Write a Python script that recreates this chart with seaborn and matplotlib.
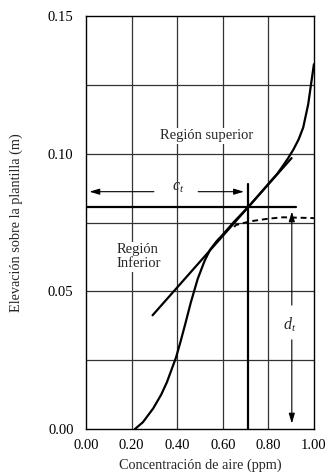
import matplotlib
matplotlib.use('Agg')
import matplotlib.pyplot as plt
import seaborn as sns

# --- Data ---
# S-shaped air concentration profile
profile_x = [0.215, 0.25, 0.295, 0.33, 0.355, 0.375, 0.395, 0.415, 0.435, 0.46,
             0.49, 0.52, 0.545, 0.573, 0.60, 0.65, 0.71, 0.76, 0.807, 0.84,
             0.865, 0.887, 0.91, 0.933, 0.953, 0.975, 0.987, 1.0]
profile_y = [0.000, 0.0025, 0.0075, 0.0125, 0.0170, 0.0215, 0.0260, 0.0318, 0.0380, 0.0460,
             0.0545, 0.0610, 0.0652, 0.0682, 0.0706, 0.0753, 0.0805, 0.0852, 0.0897, 0.0928,
             0.0957, 0.0984, 0.1015, 0.1052, 0.1095, 0.1180, 0.1250, 0.1325]

# tangent line through the inflection
tangent_x = [0.292, 0.902]
tangent_y = [0.0413, 0.0984]

# dashed curve near the transition depth
dashed_x = [0.650, 0.658, 0.70, 0.734, 0.80, 0.865, 1.0]
dashed_y = [0.0734, 0.0741, 0.0750, 0.0756, 0.0764, 0.0769, 0.0766]

# transition point (c_t, d_t)
ct_value = 0.71
dt_value = 0.0805
ct_line_end = 0.92
dt_line_top = 0.089
ct_arrow_y = 0.0862
dt_arrow_x = 0.903

x_ticks = [0.0, 0.2, 0.4, 0.6, 0.8, 1.0]
x_ticklabels = ['0.00', '0.20', '0.40', '0.60', '0.80', '1.00']
y_ticks = [0.0, 0.05, 0.10, 0.15]
y_ticklabels = ['0.00', '0.05', '0.10', '0.15']
y_grid = [0.025, 0.05, 0.075, 0.10, 0.125]
x_grid = [0.2, 0.4, 0.6, 0.8]

sns.set_theme(style='white')
plt.rcParams['font.family'] = ['Liberation Serif', 'DejaVu Serif']
plt.rcParams['mathtext.fontset'] = 'custom'
plt.rcParams['mathtext.it'] = 'Liberation Serif:italic'
plt.rcParams['mathtext.rm'] = 'Liberation Serif'

fig = plt.figure(figsize=(3.27, 4.74), dpi=100)
ax = fig.add_axes([0.263, 0.0949, 0.697, 0.8713])

# grid
for gx in x_grid:
    ax.axvline(gx, color='#333333', lw=0.9, zorder=1)
for gy in y_grid:
    ax.axhline(gy, color='#333333', lw=0.9, zorder=1)

# curves
sns.lineplot(x=profile_x, y=profile_y, sort=False, estimator=None, color='black',
             lw=1.6, ax=ax, zorder=3)
sns.lineplot(x=tangent_x, y=tangent_y, sort=False, estimator=None, color='black',
             lw=1.6, ax=ax, zorder=3)
sns.lineplot(x=dashed_x, y=dashed_y, sort=False, estimator=None, color='black',
             lw=1.4, ls=(0, (3, 2)), ax=ax, zorder=3)

# transition lines
ax.plot([0, ct_line_end], [dt_value, dt_value], color='black', lw=1.6, zorder=3)
ax.plot([ct_value, ct_value], [0, dt_line_top], color='black', lw=1.6, zorder=3)

# c_t arrows
arrow_kw = dict(arrowstyle='-|>,head_length=0.5,head_width=0.15', color='black', lw=0.8)
ax.annotate('', xy=(0.003, ct_arrow_y), xytext=(0.31, ct_arrow_y), arrowprops=arrow_kw)
ax.annotate('', xy=(ct_value - 0.005, ct_arrow_y), xytext=(0.48, ct_arrow_y), arrowprops=arrow_kw)
ax.text(0.405, 0.0878, r'$c_t$', fontsize=11.5, ha='center', va='center')

# d_t arrows
ax.annotate('', xy=(dt_arrow_x, dt_value - 0.0005), xytext=(dt_arrow_x, 0.044), arrowprops=arrow_kw)
ax.annotate('', xy=(dt_arrow_x, 0.001), xytext=(dt_arrow_x, 0.0334), arrowprops=arrow_kw)
ax.text(dt_arrow_x - 0.01, 0.0378, r'$d_t$', fontsize=11.5, ha='center', va='center')

# region labels
ax.text(0.53, 0.1065, 'Región superior', fontsize=10.5, ha='center', va='center',
        bbox=dict(facecolor='white', edgecolor='none', pad=1))
ax.text(0.135, 0.0625, 'Región\nInferior', fontsize=10.5, ha='left', va='center',
        linespacing=1.1, bbox=dict(facecolor='white', edgecolor='none', pad=1))

ax.set_xlim(0, 1)
ax.set_ylim(0, 0.15)
ax.set_xticks(x_ticks)
ax.set_xticklabels(x_ticklabels)
ax.set_yticks(y_ticks)
ax.set_yticklabels(y_ticklabels)
ax.tick_params(axis='both', length=0, labelsize=10.5, colors='black')
ax.tick_params(axis='y', pad=9)
ax.tick_params(axis='x', pad=7)
ax.set_xlabel('Concentración de aire (ppm)', fontsize=10.3, labelpad=5)
ax.set_ylabel('Elevación sobre la plantilla (m)', fontsize=10.3, labelpad=18)
for s in ax.spines.values():
    s.set_color('black')
    s.set_linewidth(1.0)

fig.savefig('out.png', dpi=100)
